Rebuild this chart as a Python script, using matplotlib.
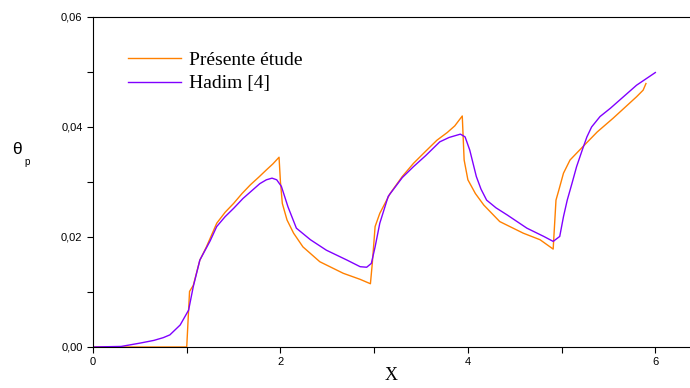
import matplotlib
matplotlib.use("Agg")
import matplotlib.pyplot as plt
from matplotlib.ticker import MultipleLocator, FuncFormatter

# Présente étude (orange)
x_present = [0.0, 0.5, 0.995, 1.0, 1.03, 1.07, 1.14, 1.21, 1.32, 1.41, 1.5, 1.59, 1.68, 1.77, 1.85, 1.92, 1.985,
             2.0, 2.02, 2.07, 2.14, 2.24, 2.42, 2.67, 2.85, 2.96,
             2.98, 3.01, 3.06, 3.17, 3.3, 3.42, 3.55, 3.67, 3.78, 3.86, 3.94,
             3.96, 4.0, 4.08, 4.17, 4.34, 4.59, 4.77, 4.91,
             4.94, 4.97, 5.02, 5.09, 5.22, 5.38, 5.55, 5.8, 5.87, 5.9]
y_present = [0.0, 0.0, 0.0, 0.0, 0.0101, 0.0112, 0.0158, 0.0182, 0.0225, 0.0245, 0.0261, 0.0279, 0.0295, 0.0309, 0.0322, 0.0333, 0.0345,
             0.0300, 0.0261, 0.0231, 0.0207, 0.0182, 0.0155, 0.0134, 0.0123, 0.0115,
             0.0152, 0.0219, 0.0243, 0.0279, 0.0310, 0.0334, 0.0356, 0.0376, 0.0390, 0.0402, 0.0420,
             0.0340, 0.0304, 0.0279, 0.0258, 0.0228, 0.0207, 0.0195, 0.0178,
             0.0267, 0.0285, 0.0316, 0.0340, 0.0363, 0.0391, 0.0416, 0.0455, 0.0467, 0.0479]

# Hadim [4] (violet)
x_hadim = [0.0, 0.3, 0.5, 0.65, 0.75, 0.82, 0.93, 1.02, 1.07, 1.14, 1.25, 1.32, 1.41, 1.5, 1.6, 1.68, 1.78, 1.85, 1.91,
           1.96, 2.01, 2.08, 2.17, 2.32, 2.49, 2.71, 2.85, 2.92, 2.97,
           3.01, 3.06, 3.15, 3.3, 3.42, 3.55, 3.7, 3.8, 3.92,
           3.97, 4.02, 4.09, 4.14, 4.2, 4.3, 4.42, 4.63, 4.81, 4.91, 4.98,
           5.02, 5.06, 5.11, 5.16, 5.22, 5.27, 5.32, 5.41, 5.52, 5.66, 5.8, 6.0]
y_hadim = [0.0, 0.0001, 0.0007, 0.0012, 0.0017, 0.0022, 0.0040, 0.0067, 0.0110, 0.0158, 0.0193, 0.0219, 0.0237, 0.0252, 0.0270, 0.0282, 0.0297, 0.0304, 0.0307,
           0.0304, 0.0292, 0.0255, 0.0216, 0.0195, 0.0176, 0.0158, 0.0146, 0.0145, 0.0152,
           0.0182, 0.0225, 0.0274, 0.0308, 0.0328, 0.0348, 0.0373, 0.0381, 0.0387,
           0.0382, 0.0358, 0.0310, 0.0287, 0.0267, 0.0253, 0.0240, 0.0216, 0.0201, 0.0192, 0.0201,
           0.0237, 0.0267, 0.0297, 0.0328, 0.0358, 0.0382, 0.0400, 0.0419, 0.0434, 0.0455, 0.0476, 0.0499]

fig = plt.figure(figsize=(6.9, 3.88), dpi=100)
ax = fig.add_axes([0.1348, 0.1057, 0.8652, 0.8505])

ax.plot(x_present, y_present, color="#FF8000", lw=1.0, label="Présente étude")
ax.plot(x_hadim, y_hadim, color="#8000FF", lw=1.0, label="Hadim [4]")

ax.set_xlim(0, 6.37)
ax.set_ylim(0, 0.06)
ax.xaxis.set_major_locator(MultipleLocator(2))
ax.xaxis.set_minor_locator(MultipleLocator(1))
ax.yaxis.set_major_locator(MultipleLocator(0.02))
ax.yaxis.set_minor_locator(MultipleLocator(0.01))
ax.yaxis.set_major_formatter(FuncFormatter(lambda v, p: f"{v:.2f}".replace(".", ",")))
ax.tick_params(which="both", direction="out", labelsize=8, length=4, width=0.8)
for lab in ax.get_xticklabels() + ax.get_yticklabels():
    lab.set_family("Liberation Sans")
ax.spines["right"].set_visible(False)

ax.set_xlabel("X", family="Liberation Serif", fontsize=13, labelpad=0)
# y label: theta with subscript p
fig.text(17 / 690, 1 - 150 / 388, "θ", family="Liberation Sans", fontsize=12.5, ha="center", va="center")
fig.text(27 / 690, 1 - 162 / 388, "p", family="Liberation Sans", fontsize=7, ha="center", va="center")

leg = ax.legend(loc="upper left", bbox_to_anchor=(0.03, 0.95), frameon=False,
                prop={"family": "Liberation Serif", "size": 14}, handlelength=2.7,
                handletextpad=0.4, labelspacing=0.32)

fig.savefig("out.png", dpi=100)
